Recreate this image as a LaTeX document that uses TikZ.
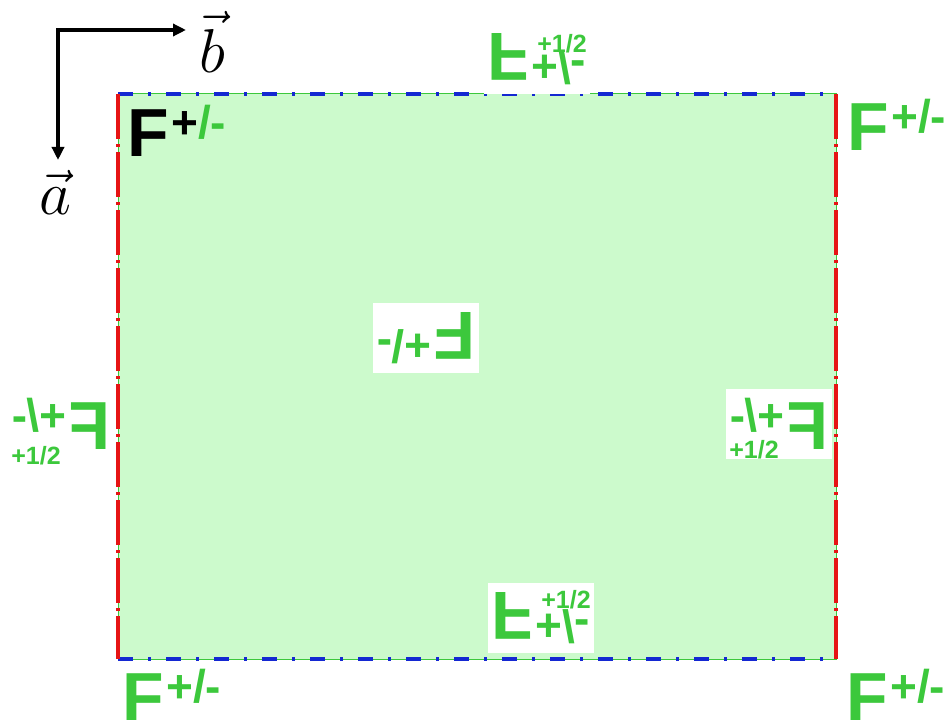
\RequirePackage{fix-cm}
\documentclass[tikz,border=0pt]{standalone}
\usepackage{graphicx}
\usepackage{fontspec}
\usepackage{tikz}
\usetikzlibrary{arrows.meta}
\newfontfamily\labfont{Liberation Sans}
\definecolor{fgreen}{RGB}{60,200,60}
\definecolor{cellfill}{RGB}{204,250,204}
\definecolor{bblue}{RGB}{20,40,210}
\definecolor{rred}{RGB}{230,20,20}
% F with its +/- superscript
\newcommand{\FF}[2]{{\color{#1}\fontsize{68}{68}\selectfont F\kern2pt\raisebox{18pt}{\fontsize{46}{46}\selectfont +\color{#2}/-}}}
\tikzset{
  flab/.style={font=\labfont\bfseries, text=fgreen, inner sep=0pt},
  flabw/.style={flab, fill=white, inner xsep=4pt, inner ysep=9pt},
  half/.style={font={\labfont\bfseries\fontsize{25}{25}\selectfont}, text=fgreen, inner sep=0pt},
  vlab/.style={font={\fontsize{62}{62}\selectfont}, inner sep=0pt},
  axis/.style={line width=4.5pt, {Triangle[length=13pt,width=12pt]}-{Triangle[length=13pt,width=12pt]}},
  bluebound/.style={bblue, line width=3.5pt, dash pattern=on 15pt off 15pt on 3pt off 15pt},
  redbound/.style={rred, line width=3.5pt, dash pattern=on 45pt off 5pt on 3pt off 5pt}
}
\begin{document}
\begin{tikzpicture}[x=1pt,y=-1pt]
			\useasboundingbox (0,0) rectangle (951,722);
			\coordinate (NW) at (118,94);
			\coordinate (NE) at (836,94);
			\coordinate (SW) at (118,659);
			\coordinate (SE) at (836,659);
			\fill[cellfill] (NW) rectangle (SE);
			\draw[fgreen, line width=1pt] (NW) rectangle (SE);
			\draw[bluebound] (NW) -- (NE);
			\draw[bluebound] (SW) -- (SE);
			\draw[redbound] (NW) -- (SW);
			\draw[redbound] (NE) -- (SE);
			% axes
			\coordinate (O) at (58,30);
			\coordinate (atip) at (58,160);
			\coordinate (btip) at (186,30);
			\draw[axis] (atip) -- (O) -- (btip);
			\node[vlab] (bvec) at (212,42) {$\vec{b}$};
			\node[vlab] (avec) at (55,192) {$\vec{a}$};
			% corners
			\node[flab] (TL) at (177,131) {\FF{black}{fgreen}};
			\node[flab] (TR) at (897,125) {\FF{fgreen}{fgreen}};
			\node[flab] (BL) at (172,695) {\FF{fgreen}{fgreen}};
			\node[flab] (BR) at (896,695) {\FF{fgreen}{fgreen}};
			% mirrored ones
			\node[flabw] (T) at (537,59) {\scalebox{1}[-1]{\FF{fgreen}{fgreen}}};
			\node[half] (Th) at (562,44) {+1/2};
			\node[flabw] (B) at (541,618) {\scalebox{1}[-1]{\FF{fgreen}{fgreen}}};
			\node[half] (Bh) at (566,600) {+1/2};
			\node[flabw] (C) at (426,338) {\rotatebox{180}{\FF{fgreen}{fgreen}}};
			\node[flab] (L) at (61,424) {\reflectbox{\FF{fgreen}{fgreen}}};
			\node[half] (Lh) at (36,456) {+1/2};
			\node[flabw] (R) at (779,424) {\reflectbox{\FF{fgreen}{fgreen}}};
			\node[half] (Rh) at (754,450) {+1/2};
		\end{tikzpicture}
\end{document}
